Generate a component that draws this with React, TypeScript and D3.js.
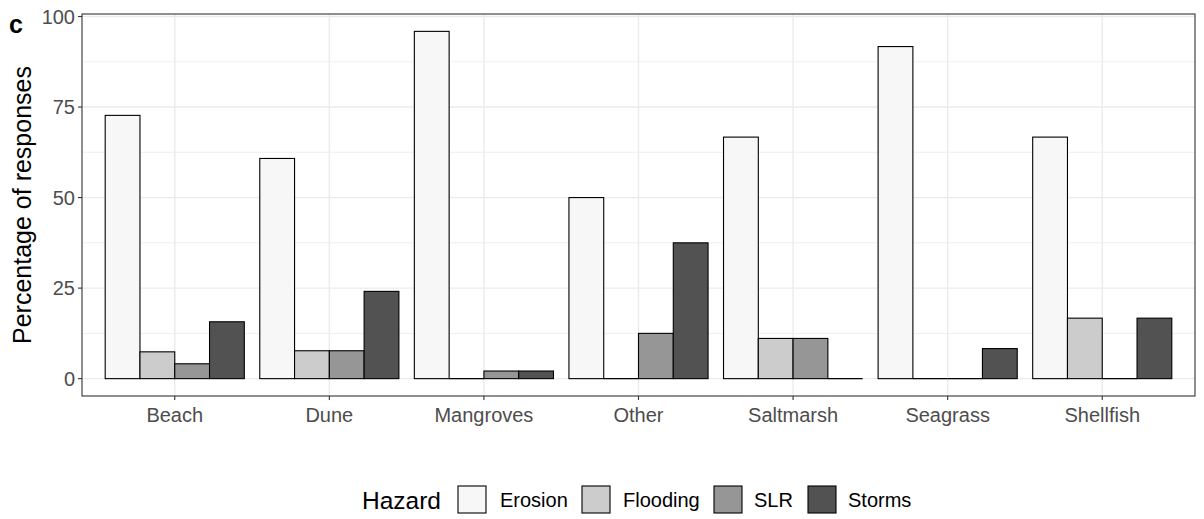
import React from "react";
import * as d3 from "d3";

const categories = ["Beach", "Dune", "Mangroves", "Other", "Saltmarsh", "Seagrass", "Shellfish"];
const hazards = ["Erosion", "Flooding", "SLR", "Storms"];
const erosion = [72.7, 60.8, 95.9, 50.0, 66.7, 91.7, 66.7];
const flooding = [7.4, 7.7, 0, 0, 11.1, 0, 16.7];
const slr = [4.1, 7.7, 2.1, 12.5, 11.1, 0, 0];
const storms = [15.7, 24.1, 2.1, 37.5, 0, 8.3, 16.7];
const yTicks = [0, 25, 50, 75, 100];
const yMinor = [12.5, 37.5, 62.5, 87.5];
const colors = ["#F7F7F7", "#CCCCCC", "#969696", "#525252"];

const series = [erosion, flooding, slr, storms];

export default function App() {
  const W = 1204, H = 519;
  const left = 82, right = 1195, top = 14, bottom = 396;
  const font = "'Liberation Sans', Arial, sans-serif";

  const maxV = d3.max(series.flat()) as number;
  const y = d3.scaleLinear().domain([-0.05 * maxV, maxV * 1.05]).range([bottom, top]);
  // ggplot discrete expansion: 0.6 units on each side, dodge width 0.9
  const x = d3
    .scalePoint()
    .domain(categories)
    .range([left, right])
    .padding(0.6);
  const step = x.step();
  const groupW = 0.9 * step;
  const inner = d3.scaleBand().domain(hazards).range([-groupW / 2, groupW / 2]).padding(0);

  return (
    <svg width={W} height={H} style={{ position: "absolute", left: 0, top: 0, background: "#fff" }}>
      <rect x={0} y={0} width={W} height={H} fill="#fff" />
      {yMinor.map((t) => (
        <line key={"mn" + t} x1={left} x2={right} y1={y(t)} y2={y(t)} stroke="#EBEBEB" strokeWidth={0.8} />
      ))}
      {yTicks.map((t) => (
        <line key={"mj" + t} x1={left} x2={right} y1={y(t)} y2={y(t)} stroke="#EBEBEB" strokeWidth={1.4} />
      ))}
      {categories.map((c) => (
        <line key={"vx" + c} x1={x(c)} x2={x(c)} y1={top} y2={bottom} stroke="#EBEBEB" strokeWidth={1.4} />
      ))}
      {categories.map((c, i) =>
        hazards.map((h, j) => {
          const v = series[j][i];
          const x0 = (x(c) as number) + (inner(h) as number);
          const bw = inner.bandwidth();
          if (v === 0) {
            return (
              <line key={c + h} x1={x0} x2={x0 + bw} y1={y(0)} y2={y(0)} stroke="#000" strokeWidth={1.1} />
            );
          }
          return (
            <rect
              key={c + h}
              x={x0}
              y={y(v)}
              width={bw}
              height={y(0) - y(v)}
              fill={colors[j]}
              stroke="#000"
              strokeWidth={1.1}
            />
          );
        })
      )}
      <rect x={left} y={top} width={right - left} height={bottom - top} fill="none" stroke="#333333" strokeWidth={1.1} />
      {yTicks.map((t) => (
        <g key={"yt" + t}>
          <line x1={left - 4} x2={left} y1={y(t)} y2={y(t)} stroke="#333333" strokeWidth={1.1} />
          <text x={left - 7} y={y(t)} dy="0.35em" textAnchor="end" fontFamily={font} fontSize={20} fill="#4D4D4D">
            {t}
          </text>
        </g>
      ))}
      {categories.map((c) => (
        <g key={"xt" + c}>
          <line x1={x(c)} x2={x(c)} y1={bottom} y2={bottom + 4} stroke="#333333" strokeWidth={1.1} />
          <text x={x(c)} y={bottom + 19} dy="0.35em" textAnchor="middle" fontFamily={font} fontSize={20} fill="#4D4D4D">
            {c}
          </text>
        </g>
      ))}
      <text
        transform={`translate(31, ${(top + bottom) / 2}) rotate(-90)`}
        textAnchor="middle"
        fontFamily={font}
        fontSize={25}
        fill="#000"
      >
        Percentage of responses
      </text>
      <text x={9} y={33} fontFamily={font} fontSize={25} fontWeight="bold" fill="#000">
        c
      </text>
      <text x={362} y={500} dy="0.35em" fontFamily={font} fontSize={24.5} fill="#000">
        Hazard
      </text>
      {hazards.map((h, j) => {
        const kx = [458, 582, 714, 808][j];
        const tx = [500, 623, 754, 848][j];
        return (
          <g key={"lg" + h}>
            <rect x={kx} y={486} width={28} height={27} fill={colors[j]} stroke="#000" strokeWidth={1.1} />
            <text x={tx} y={500} dy="0.35em" fontFamily={font} fontSize={20} fill="#000">
              {h}
            </text>
          </g>
        );
      })}
    </svg>
  );
}
